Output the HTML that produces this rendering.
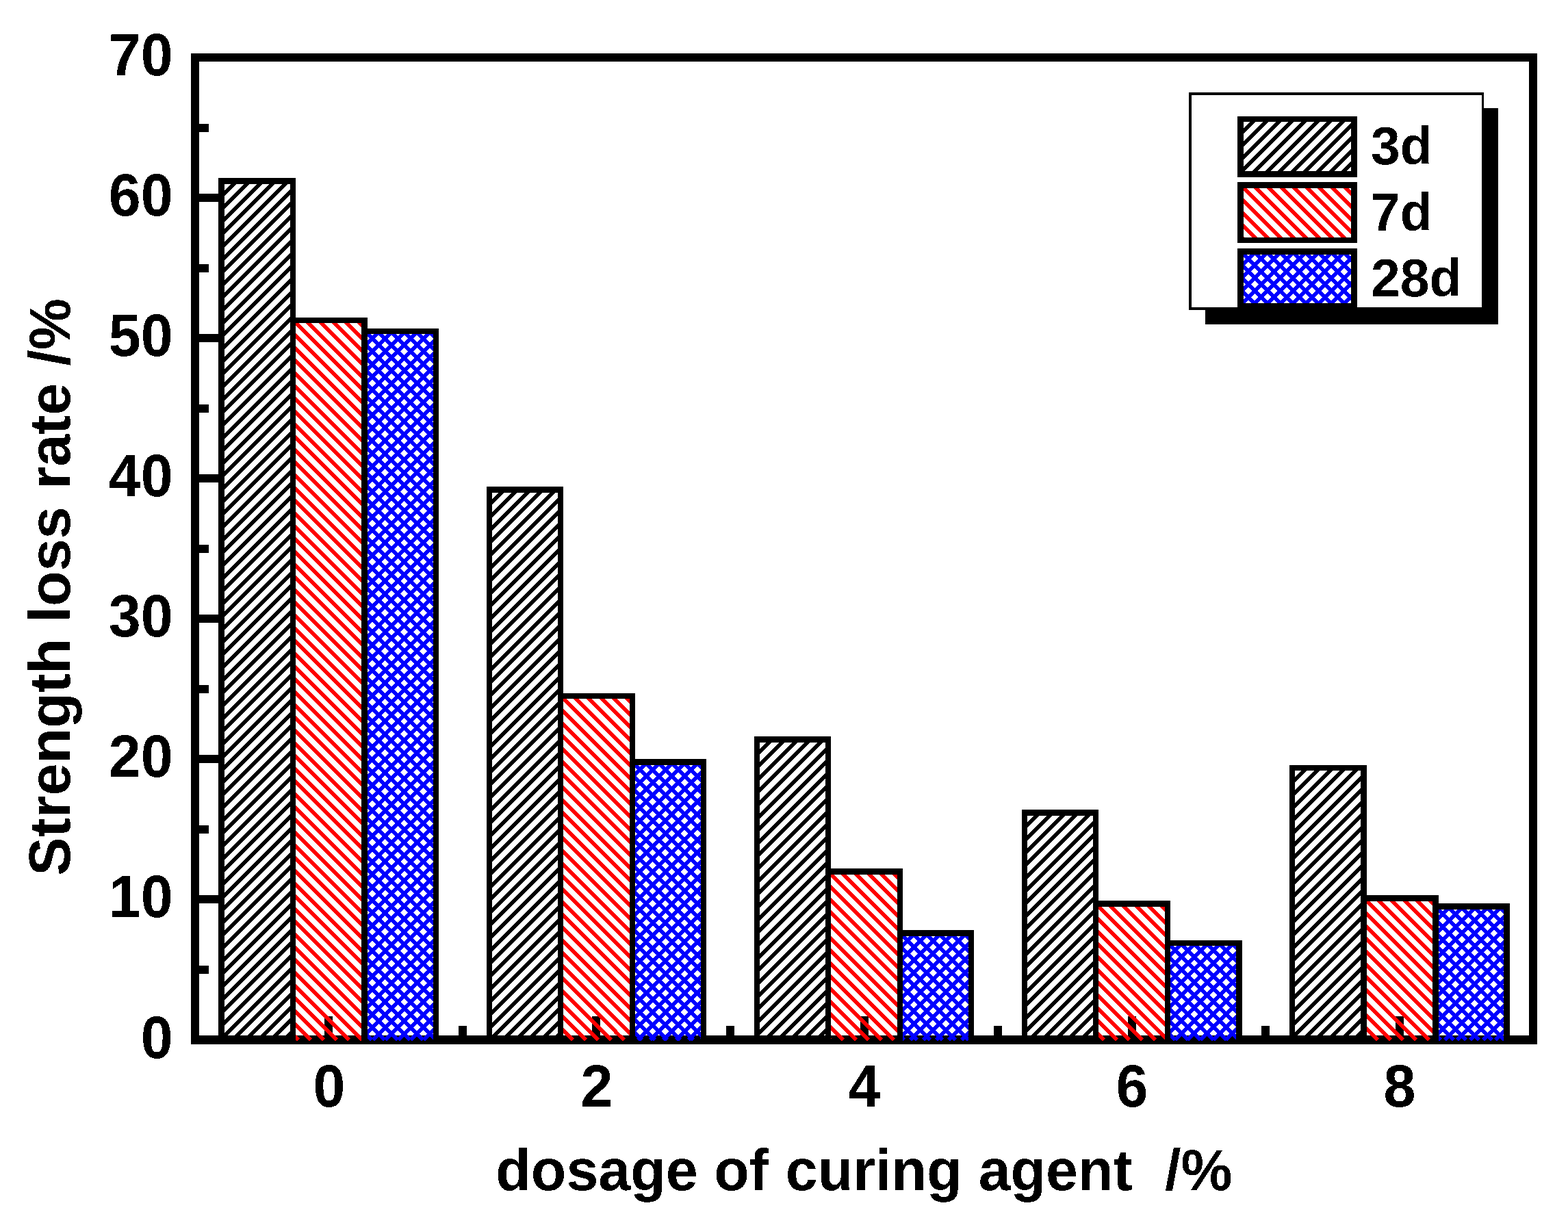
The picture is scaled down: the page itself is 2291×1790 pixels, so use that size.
<!DOCTYPE html>
<html lang="en"><head><meta charset="utf-8"><title>Strength loss rate vs dosage of curing agent</title>
<style>
html,body{margin:0;padding:0;background:#fff;}
body{width:2291px;height:1790px;overflow:hidden;}
svg{display:block;}
text{font-family:"Liberation Sans",Arial,Helvetica,sans-serif;font-weight:bold;fill:#000;}
.t{font-size:84.4px;}
.l{font-size:76.8px;}
.k{fill:#000;shape-rendering:crispEdges;}
.h{shape-rendering:crispEdges;stroke:none;}
</style></head><body>
<svg width="2291" height="1790" viewBox="0 0 2291 1790" role="img" aria-label="Bar chart: strength loss rate versus dosage of curing agent for 3d, 7d and 28d">
<rect x="0" y="0" width="2291" height="1790" fill="#fff"/>
<defs>
<filter id="bin" filterUnits="userSpaceOnUse" x="0" y="0" width="2291" height="1790" color-interpolation-filters="sRGB"><feComponentTransfer><feFuncA type="discrete" tableValues="0 1"/></feComponentTransfer></filter>
<path id="hf" d="M-4 0L-1516 1512h8L4 0zM-1516 1512L-1521.5 1517.5L-1517.5 1521.5L-1508 1512zM14.64 0L-1497.36 1512h8L22.64 0zM-1497.36 1512L-1502.86 1517.5L-1498.86 1521.5L-1489.36 1512zM33.28 0L-1478.72 1512h8L41.28 0zM-1478.72 1512L-1484.22 1517.5L-1480.22 1521.5L-1470.72 1512zM51.92 0L-1460.08 1512h8L59.92 0zM-1460.08 1512L-1465.58 1517.5L-1461.58 1521.5L-1452.08 1512zM70.56 0L-1441.44 1512h8L78.56 0zM-1441.44 1512L-1446.94 1517.5L-1442.94 1521.5L-1433.44 1512zM89.2 0L-1422.8 1512h8L97.2 0zM-1422.8 1512L-1428.3 1517.5L-1424.3 1521.5L-1414.8 1512zM107.84 0L-1404.16 1512h8L115.84 0zM-1404.16 1512L-1409.66 1517.5L-1405.66 1521.5L-1396.16 1512zM126.48 0L-1385.52 1512h8L134.48 0zM-1385.52 1512L-1391.02 1517.5L-1387.02 1521.5L-1377.52 1512zM145.12 0L-1366.88 1512h8L153.12 0zM-1366.88 1512L-1372.38 1517.5L-1368.38 1521.5L-1358.88 1512zM163.76 0L-1348.24 1512h8L171.76 0zM-1348.24 1512L-1353.74 1517.5L-1349.74 1521.5L-1340.24 1512zM182.4 0L-1329.6 1512h8L190.4 0zM-1329.6 1512L-1335.1 1517.5L-1331.1 1521.5L-1321.6 1512zM201.04 0L-1310.96 1512h8L209.04 0zM-1310.96 1512L-1316.46 1517.5L-1312.46 1521.5L-1302.96 1512zM219.68 0L-1292.32 1512h8L227.68 0zM-1292.32 1512L-1297.82 1517.5L-1293.82 1521.5L-1284.32 1512zM238.32 0L-1273.68 1512h8L246.32 0zM-1273.68 1512L-1279.18 1517.5L-1275.18 1521.5L-1265.68 1512zM256.96 0L-1255.04 1512h8L264.96 0zM-1255.04 1512L-1260.54 1517.5L-1256.54 1521.5L-1247.04 1512zM275.6 0L-1236.4 1512h8L283.6 0zM-1236.4 1512L-1241.9 1517.5L-1237.9 1521.5L-1228.4 1512zM294.24 0L-1217.76 1512h8L302.24 0zM-1217.76 1512L-1223.26 1517.5L-1219.26 1521.5L-1209.76 1512zM312.88 0L-1199.12 1512h8L320.88 0zM-1199.12 1512L-1204.62 1517.5L-1200.62 1521.5L-1191.12 1512zM331.52 0L-1180.48 1512h8L339.52 0zM-1180.48 1512L-1185.98 1517.5L-1181.98 1521.5L-1172.48 1512zM350.16 0L-1161.84 1512h8L358.16 0zM-1161.84 1512L-1167.34 1517.5L-1163.34 1521.5L-1153.84 1512zM368.8 0L-1143.2 1512h8L376.8 0zM-1143.2 1512L-1148.7 1517.5L-1144.7 1521.5L-1135.2 1512zM387.44 0L-1124.56 1512h8L395.44 0zM-1124.56 1512L-1130.06 1517.5L-1126.06 1521.5L-1116.56 1512zM406.08 0L-1105.92 1512h8L414.08 0zM-1105.92 1512L-1111.42 1517.5L-1107.42 1521.5L-1097.92 1512zM424.72 0L-1087.28 1512h8L432.72 0zM-1087.28 1512L-1092.78 1517.5L-1088.78 1521.5L-1079.28 1512zM443.36 0L-1068.64 1512h8L451.36 0zM-1068.64 1512L-1074.14 1517.5L-1070.14 1521.5L-1060.64 1512zM462 0L-1050 1512h8L470 0zM-1050 1512L-1055.5 1517.5L-1051.5 1521.5L-1042 1512zM480.64 0L-1031.36 1512h8L488.64 0zM-1031.36 1512L-1036.86 1517.5L-1032.86 1521.5L-1023.36 1512zM499.28 0L-1012.72 1512h8L507.28 0zM-1012.72 1512L-1018.22 1517.5L-1014.22 1521.5L-1004.72 1512zM517.92 0L-994.08 1512h8L525.92 0zM-994.08 1512L-999.58 1517.5L-995.58 1521.5L-986.08 1512zM536.56 0L-975.44 1512h8L544.56 0zM-975.44 1512L-980.94 1517.5L-976.94 1521.5L-967.44 1512zM555.2 0L-956.8 1512h8L563.2 0zM-956.8 1512L-962.3 1517.5L-958.3 1521.5L-948.8 1512zM573.84 0L-938.16 1512h8L581.84 0zM-938.16 1512L-943.66 1517.5L-939.66 1521.5L-930.16 1512zM592.48 0L-919.52 1512h8L600.48 0zM-919.52 1512L-925.02 1517.5L-921.02 1521.5L-911.52 1512zM611.12 0L-900.88 1512h8L619.12 0zM-900.88 1512L-906.38 1517.5L-902.38 1521.5L-892.88 1512zM629.76 0L-882.24 1512h8L637.76 0zM-882.24 1512L-887.74 1517.5L-883.74 1521.5L-874.24 1512zM648.4 0L-863.6 1512h8L656.4 0zM-863.6 1512L-869.1 1517.5L-865.1 1521.5L-855.6 1512zM667.04 0L-844.96 1512h8L675.04 0zM-844.96 1512L-850.46 1517.5L-846.46 1521.5L-836.96 1512zM685.68 0L-826.32 1512h8L693.68 0zM-826.32 1512L-831.82 1517.5L-827.82 1521.5L-818.32 1512zM704.32 0L-807.68 1512h8L712.32 0zM-807.68 1512L-813.18 1517.5L-809.18 1521.5L-799.68 1512zM722.96 0L-789.04 1512h8L730.96 0zM-789.04 1512L-794.54 1517.5L-790.54 1521.5L-781.04 1512zM741.6 0L-770.4 1512h8L749.6 0zM-770.4 1512L-775.9 1517.5L-771.9 1521.5L-762.4 1512zM760.24 0L-751.76 1512h8L768.24 0zM-751.76 1512L-757.26 1517.5L-753.26 1521.5L-743.76 1512zM778.88 0L-733.12 1512h8L786.88 0zM-733.12 1512L-738.62 1517.5L-734.62 1521.5L-725.12 1512zM797.52 0L-714.48 1512h8L805.52 0zM-714.48 1512L-719.98 1517.5L-715.98 1521.5L-706.48 1512zM816.16 0L-695.84 1512h8L824.16 0zM-695.84 1512L-701.34 1517.5L-697.34 1521.5L-687.84 1512zM834.8 0L-677.2 1512h8L842.8 0zM-677.2 1512L-682.7 1517.5L-678.7 1521.5L-669.2 1512zM853.44 0L-658.56 1512h8L861.44 0zM-658.56 1512L-664.06 1517.5L-660.06 1521.5L-650.56 1512zM872.08 0L-639.92 1512h8L880.08 0zM-639.92 1512L-645.42 1517.5L-641.42 1521.5L-631.92 1512zM890.72 0L-621.28 1512h8L898.72 0zM-621.28 1512L-626.78 1517.5L-622.78 1521.5L-613.28 1512zM909.36 0L-602.64 1512h8L917.36 0zM-602.64 1512L-608.14 1517.5L-604.14 1521.5L-594.64 1512zM928 0L-584 1512h8L936 0zM-584 1512L-589.5 1517.5L-585.5 1521.5L-576 1512zM946.64 0L-565.36 1512h8L954.64 0zM-565.36 1512L-570.86 1517.5L-566.86 1521.5L-557.36 1512zM965.28 0L-546.72 1512h8L973.28 0zM-546.72 1512L-552.22 1517.5L-548.22 1521.5L-538.72 1512zM983.92 0L-528.08 1512h8L991.92 0zM-528.08 1512L-533.58 1517.5L-529.58 1521.5L-520.08 1512zM1002.56 0L-509.44 1512h8L1010.56 0zM-509.44 1512L-514.94 1517.5L-510.94 1521.5L-501.44 1512zM1021.2 0L-490.8 1512h8L1029.2 0zM-490.8 1512L-496.3 1517.5L-492.3 1521.5L-482.8 1512zM1039.84 0L-472.16 1512h8L1047.84 0zM-472.16 1512L-477.66 1517.5L-473.66 1521.5L-464.16 1512zM1058.48 0L-453.52 1512h8L1066.48 0zM-453.52 1512L-459.02 1517.5L-455.02 1521.5L-445.52 1512zM1077.12 0L-434.88 1512h8L1085.12 0zM-434.88 1512L-440.38 1517.5L-436.38 1521.5L-426.88 1512zM1095.76 0L-416.24 1512h8L1103.76 0zM-416.24 1512L-421.74 1517.5L-417.74 1521.5L-408.24 1512zM1114.4 0L-397.6 1512h8L1122.4 0zM-397.6 1512L-403.1 1517.5L-399.1 1521.5L-389.6 1512zM1133.04 0L-378.96 1512h8L1141.04 0zM-378.96 1512L-384.46 1517.5L-380.46 1521.5L-370.96 1512zM1151.68 0L-360.32 1512h8L1159.68 0zM-360.32 1512L-365.82 1517.5L-361.82 1521.5L-352.32 1512zM1170.32 0L-341.68 1512h8L1178.32 0zM-341.68 1512L-347.18 1517.5L-343.18 1521.5L-333.68 1512zM1188.96 0L-323.04 1512h8L1196.96 0zM-323.04 1512L-328.54 1517.5L-324.54 1521.5L-315.04 1512zM1207.6 0L-304.4 1512h8L1215.6 0zM-304.4 1512L-309.9 1517.5L-305.9 1521.5L-296.4 1512zM1226.24 0L-285.76 1512h8L1234.24 0zM-285.76 1512L-291.26 1517.5L-287.26 1521.5L-277.76 1512zM1244.88 0L-267.12 1512h8L1252.88 0zM-267.12 1512L-272.62 1517.5L-268.62 1521.5L-259.12 1512zM1263.52 0L-248.48 1512h8L1271.52 0zM-248.48 1512L-253.98 1517.5L-249.98 1521.5L-240.48 1512zM1282.16 0L-229.84 1512h8L1290.16 0zM-229.84 1512L-235.34 1517.5L-231.34 1521.5L-221.84 1512zM1300.8 0L-211.2 1512h8L1308.8 0zM-211.2 1512L-216.7 1517.5L-212.7 1521.5L-203.2 1512zM1319.44 0L-192.56 1512h8L1327.44 0zM-192.56 1512L-198.06 1517.5L-194.06 1521.5L-184.56 1512zM1338.08 0L-173.92 1512h8L1346.08 0zM-173.92 1512L-179.42 1517.5L-175.42 1521.5L-165.92 1512zM1356.72 0L-155.28 1512h8L1364.72 0zM-155.28 1512L-160.78 1517.5L-156.78 1521.5L-147.28 1512zM1375.36 0L-136.64 1512h8L1383.36 0zM-136.64 1512L-142.14 1517.5L-138.14 1521.5L-128.64 1512zM1394 0L-118 1512h8L1402 0zM-118 1512L-123.5 1517.5L-119.5 1521.5L-110 1512zM1412.64 0L-99.36 1512h8L1420.64 0zM-99.36 1512L-104.86 1517.5L-100.86 1521.5L-91.36 1512zM1431.28 0L-80.72 1512h8L1439.28 0zM-80.72 1512L-86.22 1517.5L-82.22 1521.5L-72.72 1512zM1449.92 0L-62.08 1512h8L1457.92 0zM-62.08 1512L-67.58 1517.5L-63.58 1521.5L-54.08 1512zM1468.56 0L-43.44 1512h8L1476.56 0zM-43.44 1512L-48.94 1517.5L-44.94 1521.5L-35.44 1512zM1487.2 0L-24.8 1512h8L1495.2 0zM-24.8 1512L-30.3 1517.5L-26.3 1521.5L-16.8 1512zM1505.84 0L-6.16 1512h8L1513.84 0zM-6.16 1512L-11.66 1517.5L-7.66 1521.5L1.84 1512zM1524.48 0L12.48 1512h8L1532.48 0zM12.48 1512L6.98 1517.5L10.98 1521.5L20.48 1512zM1543.12 0L31.12 1512h8L1551.12 0zM31.12 1512L25.62 1517.5L29.62 1521.5L39.12 1512zM1561.76 0L49.76 1512h8L1569.76 0zM49.76 1512L44.26 1517.5L48.26 1521.5L57.76 1512zM1580.4 0L68.4 1512h8L1588.4 0zM68.4 1512L62.9 1517.5L66.9 1521.5L76.4 1512zM1599.04 0L87.04 1512h8L1607.04 0zM87.04 1512L81.54 1517.5L85.54 1521.5L95.04 1512zM1617.68 0L105.68 1512h8L1625.68 0zM105.68 1512L100.18 1517.5L104.18 1521.5L113.68 1512zM1636.32 0L124.32 1512h8L1644.32 0zM124.32 1512L118.82 1517.5L122.82 1521.5L132.32 1512zM1654.96 0L142.96 1512h8L1662.96 0zM142.96 1512L137.46 1517.5L141.46 1521.5L150.96 1512zM1673.6 0L161.6 1512h8L1681.6 0zM161.6 1512L156.1 1517.5L160.1 1521.5L169.6 1512zM1692.24 0L180.24 1512h8L1700.24 0zM180.24 1512L174.74 1517.5L178.74 1521.5L188.24 1512zM1710.88 0L198.88 1512h8L1718.88 0zM198.88 1512L193.38 1517.5L197.38 1521.5L206.88 1512zM1729.52 0L217.52 1512h8L1737.52 0zM217.52 1512L212.02 1517.5L216.02 1521.5L225.52 1512zM1748.16 0L236.16 1512h8L1756.16 0zM236.16 1512L230.66 1517.5L234.66 1521.5L244.16 1512zM1766.8 0L254.8 1512h8L1774.8 0zM254.8 1512L249.3 1517.5L253.3 1521.5L262.8 1512zM1785.44 0L273.44 1512h8L1793.44 0zM273.44 1512L267.94 1517.5L271.94 1521.5L281.44 1512zM1804.08 0L292.08 1512h8L1812.08 0zM292.08 1512L286.58 1517.5L290.58 1521.5L300.08 1512zM1822.72 0L310.72 1512h8L1830.72 0zM310.72 1512L305.22 1517.5L309.22 1521.5L318.72 1512zM1841.36 0L329.36 1512h8L1849.36 0zM329.36 1512L323.86 1517.5L327.86 1521.5L337.36 1512zM1860 0L348 1512h8L1868 0zM348 1512L342.5 1517.5L346.5 1521.5L356 1512zM1878.64 0L366.64 1512h8L1886.64 0zM366.64 1512L361.14 1517.5L365.14 1521.5L374.64 1512zM1897.28 0L385.28 1512h8L1905.28 0zM385.28 1512L379.78 1517.5L383.78 1521.5L393.28 1512zM1915.92 0L403.92 1512h8L1923.92 0zM403.92 1512L398.42 1517.5L402.42 1521.5L411.92 1512zM1934.56 0L422.56 1512h8L1942.56 0zM422.56 1512L417.06 1517.5L421.06 1521.5L430.56 1512zM1953.2 0L441.2 1512h8L1961.2 0zM441.2 1512L435.7 1517.5L439.7 1521.5L449.2 1512zM1971.84 0L459.84 1512h8L1979.84 0zM459.84 1512L454.34 1517.5L458.34 1521.5L467.84 1512zM1990.48 0L478.48 1512h8L1998.48 0zM478.48 1512L472.98 1517.5L476.98 1521.5L486.48 1512zM2009.12 0L497.12 1512h8L2017.12 0zM497.12 1512L491.62 1517.5L495.62 1521.5L505.12 1512zM2027.76 0L515.76 1512h8L2035.76 0zM515.76 1512L510.26 1517.5L514.26 1521.5L523.76 1512zM2046.4 0L534.4 1512h8L2054.4 0zM534.4 1512L528.9 1517.5L532.9 1521.5L542.4 1512zM2065.04 0L553.04 1512h8L2073.04 0zM553.04 1512L547.54 1517.5L551.54 1521.5L561.04 1512zM2083.68 0L571.68 1512h8L2091.68 0zM571.68 1512L566.18 1517.5L570.18 1521.5L579.68 1512zM2102.32 0L590.32 1512h8L2110.32 0zM590.32 1512L584.82 1517.5L588.82 1521.5L598.32 1512zM2120.96 0L608.96 1512h8L2128.96 0zM608.96 1512L603.46 1517.5L607.46 1521.5L616.96 1512zM2139.6 0L627.6 1512h8L2147.6 0zM627.6 1512L622.1 1517.5L626.1 1521.5L635.6 1512zM2158.24 0L646.24 1512h8L2166.24 0zM646.24 1512L640.74 1517.5L644.74 1521.5L654.24 1512zM2176.88 0L664.88 1512h8L2184.88 0zM664.88 1512L659.38 1517.5L663.38 1521.5L672.88 1512zM2195.52 0L683.52 1512h8L2203.52 0zM683.52 1512L678.02 1517.5L682.02 1521.5L691.52 1512zM2214.16 0L702.16 1512h8L2222.16 0zM702.16 1512L696.66 1517.5L700.66 1521.5L710.16 1512zM2232.8 0L720.8 1512h8L2240.8 0zM720.8 1512L715.3 1517.5L719.3 1521.5L728.8 1512zM2251.44 0L739.44 1512h8L2259.44 0zM739.44 1512L733.94 1517.5L737.94 1521.5L747.44 1512zM2270.08 0L758.08 1512h8L2278.08 0zM758.08 1512L752.58 1517.5L756.58 1521.5L766.08 1512zM2288.72 0L776.72 1512h8L2296.72 0zM776.72 1512L771.22 1517.5L775.22 1521.5L784.72 1512zM2307.36 0L795.36 1512h8L2315.36 0zM795.36 1512L789.86 1517.5L793.86 1521.5L803.36 1512zM2326 0L814 1512h8L2334 0zM814 1512L808.5 1517.5L812.5 1521.5L822 1512zM2344.64 0L832.64 1512h8L2352.64 0zM832.64 1512L827.14 1517.5L831.14 1521.5L840.64 1512zM2363.28 0L851.28 1512h8L2371.28 0zM851.28 1512L845.78 1517.5L849.78 1521.5L859.28 1512zM2381.92 0L869.92 1512h8L2389.92 0zM869.92 1512L864.42 1517.5L868.42 1521.5L877.92 1512zM2400.56 0L888.56 1512h8L2408.56 0zM888.56 1512L883.06 1517.5L887.06 1521.5L896.56 1512zM2419.2 0L907.2 1512h8L2427.2 0zM907.2 1512L901.7 1517.5L905.7 1521.5L915.2 1512zM2437.84 0L925.84 1512h8L2445.84 0zM925.84 1512L920.34 1517.5L924.34 1521.5L933.84 1512zM2456.48 0L944.48 1512h8L2464.48 0zM944.48 1512L938.98 1517.5L942.98 1521.5L952.48 1512zM2475.12 0L963.12 1512h8L2483.12 0zM963.12 1512L957.62 1517.5L961.62 1521.5L971.12 1512zM2493.76 0L981.76 1512h8L2501.76 0zM981.76 1512L976.26 1517.5L980.26 1521.5L989.76 1512zM2512.4 0L1000.4 1512h8L2520.4 0zM1000.4 1512L994.9 1517.5L998.9 1521.5L1008.4 1512zM2531.04 0L1019.04 1512h8L2539.04 0zM1019.04 1512L1013.54 1517.5L1017.54 1521.5L1027.04 1512zM2549.68 0L1037.68 1512h8L2557.68 0zM1037.68 1512L1032.18 1517.5L1036.18 1521.5L1045.68 1512zM2568.32 0L1056.32 1512h8L2576.32 0zM1056.32 1512L1050.82 1517.5L1054.82 1521.5L1064.32 1512zM2586.96 0L1074.96 1512h8L2594.96 0zM1074.96 1512L1069.46 1517.5L1073.46 1521.5L1082.96 1512zM2605.6 0L1093.6 1512h8L2613.6 0zM1093.6 1512L1088.1 1517.5L1092.1 1521.5L1101.6 1512zM2624.24 0L1112.24 1512h8L2632.24 0zM1112.24 1512L1106.74 1517.5L1110.74 1521.5L1120.24 1512zM2642.88 0L1130.88 1512h8L2650.88 0zM1130.88 1512L1125.38 1517.5L1129.38 1521.5L1138.88 1512zM2661.52 0L1149.52 1512h8L2669.52 0zM1149.52 1512L1144.02 1517.5L1148.02 1521.5L1157.52 1512zM2680.16 0L1168.16 1512h8L2688.16 0zM1168.16 1512L1162.66 1517.5L1166.66 1521.5L1176.16 1512zM2698.8 0L1186.8 1512h8L2706.8 0zM1186.8 1512L1181.3 1517.5L1185.3 1521.5L1194.8 1512zM2717.44 0L1205.44 1512h8L2725.44 0zM1205.44 1512L1199.94 1517.5L1203.94 1521.5L1213.44 1512zM2736.08 0L1224.08 1512h8L2744.08 0zM1224.08 1512L1218.58 1517.5L1222.58 1521.5L1232.08 1512zM2754.72 0L1242.72 1512h8L2762.72 0zM1242.72 1512L1237.22 1517.5L1241.22 1521.5L1250.72 1512zM2773.36 0L1261.36 1512h8L2781.36 0zM1261.36 1512L1255.86 1517.5L1259.86 1521.5L1269.36 1512zM2792 0L1280 1512h8L2800 0zM1280 1512L1274.5 1517.5L1278.5 1521.5L1288 1512zM2810.64 0L1298.64 1512h8L2818.64 0zM1298.64 1512L1293.14 1517.5L1297.14 1521.5L1306.64 1512zM2829.28 0L1317.28 1512h8L2837.28 0zM1317.28 1512L1311.78 1517.5L1315.78 1521.5L1325.28 1512zM2847.92 0L1335.92 1512h8L2855.92 0zM1335.92 1512L1330.42 1517.5L1334.42 1521.5L1343.92 1512zM2866.56 0L1354.56 1512h8L2874.56 0zM1354.56 1512L1349.06 1517.5L1353.06 1521.5L1362.56 1512zM2885.2 0L1373.2 1512h8L2893.2 0zM1373.2 1512L1367.7 1517.5L1371.7 1521.5L1381.2 1512zM2903.84 0L1391.84 1512h8L2911.84 0zM1391.84 1512L1386.34 1517.5L1390.34 1521.5L1399.84 1512zM2922.48 0L1410.48 1512h8L2930.48 0zM1410.48 1512L1404.98 1517.5L1408.98 1521.5L1418.48 1512zM2941.12 0L1429.12 1512h8L2949.12 0zM1429.12 1512L1423.62 1517.5L1427.62 1521.5L1437.12 1512zM2959.76 0L1447.76 1512h8L2967.76 0zM1447.76 1512L1442.26 1517.5L1446.26 1521.5L1455.76 1512zM2978.4 0L1466.4 1512h8L2986.4 0zM1466.4 1512L1460.9 1517.5L1464.9 1521.5L1474.4 1512zM2997.04 0L1485.04 1512h8L3005.04 0zM1485.04 1512L1479.54 1517.5L1483.54 1521.5L1493.04 1512zM3015.68 0L1503.68 1512h8L3023.68 0zM1503.68 1512L1498.18 1517.5L1502.18 1521.5L1511.68 1512zM3034.32 0L1522.32 1512h8L3042.32 0zM1522.32 1512L1516.82 1517.5L1520.82 1521.5L1530.32 1512zM3052.96 0L1540.96 1512h8L3060.96 0zM1540.96 1512L1535.46 1517.5L1539.46 1521.5L1548.96 1512zM3071.6 0L1559.6 1512h8L3079.6 0zM1559.6 1512L1554.1 1517.5L1558.1 1521.5L1567.6 1512zM3090.24 0L1578.24 1512h8L3098.24 0zM1578.24 1512L1572.74 1517.5L1576.74 1521.5L1586.24 1512zM3108.88 0L1596.88 1512h8L3116.88 0zM1596.88 1512L1591.38 1517.5L1595.38 1521.5L1604.88 1512zM3127.52 0L1615.52 1512h8L3135.52 0zM1615.52 1512L1610.02 1517.5L1614.02 1521.5L1623.52 1512zM3146.16 0L1634.16 1512h8L3154.16 0zM1634.16 1512L1628.66 1517.5L1632.66 1521.5L1642.16 1512zM3164.8 0L1652.8 1512h8L3172.8 0zM1652.8 1512L1647.3 1517.5L1651.3 1521.5L1660.8 1512zM3183.44 0L1671.44 1512h8L3191.44 0zM1671.44 1512L1665.94 1517.5L1669.94 1521.5L1679.44 1512zM3202.08 0L1690.08 1512h8L3210.08 0zM1690.08 1512L1684.58 1517.5L1688.58 1521.5L1698.08 1512zM3220.72 0L1708.72 1512h8L3228.72 0zM1708.72 1512L1703.22 1517.5L1707.22 1521.5L1716.72 1512zM3239.36 0L1727.36 1512h8L3247.36 0zM1727.36 1512L1721.86 1517.5L1725.86 1521.5L1735.36 1512zM3258 0L1746 1512h8L3266 0zM1746 1512L1740.5 1517.5L1744.5 1521.5L1754 1512zM3276.64 0L1764.64 1512h8L3284.64 0zM1764.64 1512L1759.14 1517.5L1763.14 1521.5L1772.64 1512zM3295.28 0L1783.28 1512h8L3303.28 0zM1783.28 1512L1777.78 1517.5L1781.78 1521.5L1791.28 1512zM3313.92 0L1801.92 1512h8L3321.92 0zM1801.92 1512L1796.42 1517.5L1800.42 1521.5L1809.92 1512zM3332.56 0L1820.56 1512h8L3340.56 0zM1820.56 1512L1815.06 1517.5L1819.06 1521.5L1828.56 1512zM3351.2 0L1839.2 1512h8L3359.2 0zM1839.2 1512L1833.7 1517.5L1837.7 1521.5L1847.2 1512zM3369.84 0L1857.84 1512h8L3377.84 0zM1857.84 1512L1852.34 1517.5L1856.34 1521.5L1865.84 1512zM3388.48 0L1876.48 1512h8L3396.48 0zM1876.48 1512L1870.98 1517.5L1874.98 1521.5L1884.48 1512zM3407.12 0L1895.12 1512h8L3415.12 0zM1895.12 1512L1889.62 1517.5L1893.62 1521.5L1903.12 1512zM3425.76 0L1913.76 1512h8L3433.76 0zM1913.76 1512L1908.26 1517.5L1912.26 1521.5L1921.76 1512zM3444.4 0L1932.4 1512h8L3452.4 0zM1932.4 1512L1926.9 1517.5L1930.9 1521.5L1940.4 1512zM3463.04 0L1951.04 1512h8L3471.04 0zM1951.04 1512L1945.54 1517.5L1949.54 1521.5L1959.04 1512zM3481.68 0L1969.68 1512h8L3489.68 0zM1969.68 1512L1964.18 1517.5L1968.18 1521.5L1977.68 1512zM3500.32 0L1988.32 1512h8L3508.32 0zM1988.32 1512L1982.82 1517.5L1986.82 1521.5L1996.32 1512zM3518.96 0L2006.96 1512h8L3526.96 0zM2006.96 1512L2001.46 1517.5L2005.46 1521.5L2014.96 1512zM3537.6 0L2025.6 1512h8L3545.6 0zM2025.6 1512L2020.1 1517.5L2024.1 1521.5L2033.6 1512zM3556.24 0L2044.24 1512h8L3564.24 0zM2044.24 1512L2038.74 1517.5L2042.74 1521.5L2052.24 1512zM3574.88 0L2062.88 1512h8L3582.88 0zM2062.88 1512L2057.38 1517.5L2061.38 1521.5L2070.88 1512zM3593.52 0L2081.52 1512h8L3601.52 0zM2081.52 1512L2076.02 1517.5L2080.02 1521.5L2089.52 1512zM3612.16 0L2100.16 1512h8L3620.16 0zM2100.16 1512L2094.66 1517.5L2098.66 1521.5L2108.16 1512zM3630.8 0L2118.8 1512h8L3638.8 0zM2118.8 1512L2113.3 1517.5L2117.3 1521.5L2126.8 1512zM3649.44 0L2137.44 1512h8L3657.44 0zM2137.44 1512L2131.94 1517.5L2135.94 1521.5L2145.44 1512zM3668.08 0L2156.08 1512h8L3676.08 0zM2156.08 1512L2150.58 1517.5L2154.58 1521.5L2164.08 1512zM3686.72 0L2174.72 1512h8L3694.72 0zM2174.72 1512L2169.22 1517.5L2173.22 1521.5L2182.72 1512zM3705.36 0L2193.36 1512h8L3713.36 0zM2193.36 1512L2187.86 1517.5L2191.86 1521.5L2201.36 1512zM3724 0L2212 1512h8L3732 0zM2212 1512L2206.5 1517.5L2210.5 1521.5L2220 1512zM3742.64 0L2230.64 1512h8L3750.64 0zM2230.64 1512L2225.14 1517.5L2229.14 1521.5L2238.64 1512zM3761.28 0L2249.28 1512h8L3769.28 0zM2249.28 1512L2243.78 1517.5L2247.78 1521.5L2257.28 1512zM3779.92 0L2267.92 1512h8L3787.92 0zM2267.92 1512L2262.42 1517.5L2266.42 1521.5L2275.92 1512zM3798.56 0L2286.56 1512h8L3806.56 0zM2286.56 1512L2281.06 1517.5L2285.06 1521.5L2294.56 1512zM3817.2 0L2305.2 1512h8L3825.2 0zM2305.2 1512L2299.7 1517.5L2303.7 1521.5L2313.2 1512z"/>
<path id="hb" d="M-1551.12 0L-39.12 1512h8L-1543.12 0zM-39.12 1512L-29.62 1521.5L-25.62 1517.5L-31.12 1512zM-1532.48 0L-20.48 1512h8L-1524.48 0zM-20.48 1512L-10.98 1521.5L-6.98 1517.5L-12.48 1512zM-1513.84 0L-1.84 1512h8L-1505.84 0zM-1.84 1512L7.66 1521.5L11.66 1517.5L6.16 1512zM-1495.2 0L16.8 1512h8L-1487.2 0zM16.8 1512L26.3 1521.5L30.3 1517.5L24.8 1512zM-1476.56 0L35.44 1512h8L-1468.56 0zM35.44 1512L44.94 1521.5L48.94 1517.5L43.44 1512zM-1457.92 0L54.08 1512h8L-1449.92 0zM54.08 1512L63.58 1521.5L67.58 1517.5L62.08 1512zM-1439.28 0L72.72 1512h8L-1431.28 0zM72.72 1512L82.22 1521.5L86.22 1517.5L80.72 1512zM-1420.64 0L91.36 1512h8L-1412.64 0zM91.36 1512L100.86 1521.5L104.86 1517.5L99.36 1512zM-1402 0L110 1512h8L-1394 0zM110 1512L119.5 1521.5L123.5 1517.5L118 1512zM-1383.36 0L128.64 1512h8L-1375.36 0zM128.64 1512L138.14 1521.5L142.14 1517.5L136.64 1512zM-1364.72 0L147.28 1512h8L-1356.72 0zM147.28 1512L156.78 1521.5L160.78 1517.5L155.28 1512zM-1346.08 0L165.92 1512h8L-1338.08 0zM165.92 1512L175.42 1521.5L179.42 1517.5L173.92 1512zM-1327.44 0L184.56 1512h8L-1319.44 0zM184.56 1512L194.06 1521.5L198.06 1517.5L192.56 1512zM-1308.8 0L203.2 1512h8L-1300.8 0zM203.2 1512L212.7 1521.5L216.7 1517.5L211.2 1512zM-1290.16 0L221.84 1512h8L-1282.16 0zM221.84 1512L231.34 1521.5L235.34 1517.5L229.84 1512zM-1271.52 0L240.48 1512h8L-1263.52 0zM240.48 1512L249.98 1521.5L253.98 1517.5L248.48 1512zM-1252.88 0L259.12 1512h8L-1244.88 0zM259.12 1512L268.62 1521.5L272.62 1517.5L267.12 1512zM-1234.24 0L277.76 1512h8L-1226.24 0zM277.76 1512L287.26 1521.5L291.26 1517.5L285.76 1512zM-1215.6 0L296.4 1512h8L-1207.6 0zM296.4 1512L305.9 1521.5L309.9 1517.5L304.4 1512zM-1196.96 0L315.04 1512h8L-1188.96 0zM315.04 1512L324.54 1521.5L328.54 1517.5L323.04 1512zM-1178.32 0L333.68 1512h8L-1170.32 0zM333.68 1512L343.18 1521.5L347.18 1517.5L341.68 1512zM-1159.68 0L352.32 1512h8L-1151.68 0zM352.32 1512L361.82 1521.5L365.82 1517.5L360.32 1512zM-1141.04 0L370.96 1512h8L-1133.04 0zM370.96 1512L380.46 1521.5L384.46 1517.5L378.96 1512zM-1122.4 0L389.6 1512h8L-1114.4 0zM389.6 1512L399.1 1521.5L403.1 1517.5L397.6 1512zM-1103.76 0L408.24 1512h8L-1095.76 0zM408.24 1512L417.74 1521.5L421.74 1517.5L416.24 1512zM-1085.12 0L426.88 1512h8L-1077.12 0zM426.88 1512L436.38 1521.5L440.38 1517.5L434.88 1512zM-1066.48 0L445.52 1512h8L-1058.48 0zM445.52 1512L455.02 1521.5L459.02 1517.5L453.52 1512zM-1047.84 0L464.16 1512h8L-1039.84 0zM464.16 1512L473.66 1521.5L477.66 1517.5L472.16 1512zM-1029.2 0L482.8 1512h8L-1021.2 0zM482.8 1512L492.3 1521.5L496.3 1517.5L490.8 1512zM-1010.56 0L501.44 1512h8L-1002.56 0zM501.44 1512L510.94 1521.5L514.94 1517.5L509.44 1512zM-991.92 0L520.08 1512h8L-983.92 0zM520.08 1512L529.58 1521.5L533.58 1517.5L528.08 1512zM-973.28 0L538.72 1512h8L-965.28 0zM538.72 1512L548.22 1521.5L552.22 1517.5L546.72 1512zM-954.64 0L557.36 1512h8L-946.64 0zM557.36 1512L566.86 1521.5L570.86 1517.5L565.36 1512zM-936 0L576 1512h8L-928 0zM576 1512L585.5 1521.5L589.5 1517.5L584 1512zM-917.36 0L594.64 1512h8L-909.36 0zM594.64 1512L604.14 1521.5L608.14 1517.5L602.64 1512zM-898.72 0L613.28 1512h8L-890.72 0zM613.28 1512L622.78 1521.5L626.78 1517.5L621.28 1512zM-880.08 0L631.92 1512h8L-872.08 0zM631.92 1512L641.42 1521.5L645.42 1517.5L639.92 1512zM-861.44 0L650.56 1512h8L-853.44 0zM650.56 1512L660.06 1521.5L664.06 1517.5L658.56 1512zM-842.8 0L669.2 1512h8L-834.8 0zM669.2 1512L678.7 1521.5L682.7 1517.5L677.2 1512zM-824.16 0L687.84 1512h8L-816.16 0zM687.84 1512L697.34 1521.5L701.34 1517.5L695.84 1512zM-805.52 0L706.48 1512h8L-797.52 0zM706.48 1512L715.98 1521.5L719.98 1517.5L714.48 1512zM-786.88 0L725.12 1512h8L-778.88 0zM725.12 1512L734.62 1521.5L738.62 1517.5L733.12 1512zM-768.24 0L743.76 1512h8L-760.24 0zM743.76 1512L753.26 1521.5L757.26 1517.5L751.76 1512zM-749.6 0L762.4 1512h8L-741.6 0zM762.4 1512L771.9 1521.5L775.9 1517.5L770.4 1512zM-730.96 0L781.04 1512h8L-722.96 0zM781.04 1512L790.54 1521.5L794.54 1517.5L789.04 1512zM-712.32 0L799.68 1512h8L-704.32 0zM799.68 1512L809.18 1521.5L813.18 1517.5L807.68 1512zM-693.68 0L818.32 1512h8L-685.68 0zM818.32 1512L827.82 1521.5L831.82 1517.5L826.32 1512zM-675.04 0L836.96 1512h8L-667.04 0zM836.96 1512L846.46 1521.5L850.46 1517.5L844.96 1512zM-656.4 0L855.6 1512h8L-648.4 0zM855.6 1512L865.1 1521.5L869.1 1517.5L863.6 1512zM-637.76 0L874.24 1512h8L-629.76 0zM874.24 1512L883.74 1521.5L887.74 1517.5L882.24 1512zM-619.12 0L892.88 1512h8L-611.12 0zM892.88 1512L902.38 1521.5L906.38 1517.5L900.88 1512zM-600.48 0L911.52 1512h8L-592.48 0zM911.52 1512L921.02 1521.5L925.02 1517.5L919.52 1512zM-581.84 0L930.16 1512h8L-573.84 0zM930.16 1512L939.66 1521.5L943.66 1517.5L938.16 1512zM-563.2 0L948.8 1512h8L-555.2 0zM948.8 1512L958.3 1521.5L962.3 1517.5L956.8 1512zM-544.56 0L967.44 1512h8L-536.56 0zM967.44 1512L976.94 1521.5L980.94 1517.5L975.44 1512zM-525.92 0L986.08 1512h8L-517.92 0zM986.08 1512L995.58 1521.5L999.58 1517.5L994.08 1512zM-507.28 0L1004.72 1512h8L-499.28 0zM1004.72 1512L1014.22 1521.5L1018.22 1517.5L1012.72 1512zM-488.64 0L1023.36 1512h8L-480.64 0zM1023.36 1512L1032.86 1521.5L1036.86 1517.5L1031.36 1512zM-470 0L1042 1512h8L-462 0zM1042 1512L1051.5 1521.5L1055.5 1517.5L1050 1512zM-451.36 0L1060.64 1512h8L-443.36 0zM1060.64 1512L1070.14 1521.5L1074.14 1517.5L1068.64 1512zM-432.72 0L1079.28 1512h8L-424.72 0zM1079.28 1512L1088.78 1521.5L1092.78 1517.5L1087.28 1512zM-414.08 0L1097.92 1512h8L-406.08 0zM1097.92 1512L1107.42 1521.5L1111.42 1517.5L1105.92 1512zM-395.44 0L1116.56 1512h8L-387.44 0zM1116.56 1512L1126.06 1521.5L1130.06 1517.5L1124.56 1512zM-376.8 0L1135.2 1512h8L-368.8 0zM1135.2 1512L1144.7 1521.5L1148.7 1517.5L1143.2 1512zM-358.16 0L1153.84 1512h8L-350.16 0zM1153.84 1512L1163.34 1521.5L1167.34 1517.5L1161.84 1512zM-339.52 0L1172.48 1512h8L-331.52 0zM1172.48 1512L1181.98 1521.5L1185.98 1517.5L1180.48 1512zM-320.88 0L1191.12 1512h8L-312.88 0zM1191.12 1512L1200.62 1521.5L1204.62 1517.5L1199.12 1512zM-302.24 0L1209.76 1512h8L-294.24 0zM1209.76 1512L1219.26 1521.5L1223.26 1517.5L1217.76 1512zM-283.6 0L1228.4 1512h8L-275.6 0zM1228.4 1512L1237.9 1521.5L1241.9 1517.5L1236.4 1512zM-264.96 0L1247.04 1512h8L-256.96 0zM1247.04 1512L1256.54 1521.5L1260.54 1517.5L1255.04 1512zM-246.32 0L1265.68 1512h8L-238.32 0zM1265.68 1512L1275.18 1521.5L1279.18 1517.5L1273.68 1512zM-227.68 0L1284.32 1512h8L-219.68 0zM1284.32 1512L1293.82 1521.5L1297.82 1517.5L1292.32 1512zM-209.04 0L1302.96 1512h8L-201.04 0zM1302.96 1512L1312.46 1521.5L1316.46 1517.5L1310.96 1512zM-190.4 0L1321.6 1512h8L-182.4 0zM1321.6 1512L1331.1 1521.5L1335.1 1517.5L1329.6 1512zM-171.76 0L1340.24 1512h8L-163.76 0zM1340.24 1512L1349.74 1521.5L1353.74 1517.5L1348.24 1512zM-153.12 0L1358.88 1512h8L-145.12 0zM1358.88 1512L1368.38 1521.5L1372.38 1517.5L1366.88 1512zM-134.48 0L1377.52 1512h8L-126.48 0zM1377.52 1512L1387.02 1521.5L1391.02 1517.5L1385.52 1512zM-115.84 0L1396.16 1512h8L-107.84 0zM1396.16 1512L1405.66 1521.5L1409.66 1517.5L1404.16 1512zM-97.2 0L1414.8 1512h8L-89.2 0zM1414.8 1512L1424.3 1521.5L1428.3 1517.5L1422.8 1512zM-78.56 0L1433.44 1512h8L-70.56 0zM1433.44 1512L1442.94 1521.5L1446.94 1517.5L1441.44 1512zM-59.92 0L1452.08 1512h8L-51.92 0zM1452.08 1512L1461.58 1521.5L1465.58 1517.5L1460.08 1512zM-41.28 0L1470.72 1512h8L-33.28 0zM1470.72 1512L1480.22 1521.5L1484.22 1517.5L1478.72 1512zM-22.64 0L1489.36 1512h8L-14.64 0zM1489.36 1512L1498.86 1521.5L1502.86 1517.5L1497.36 1512zM-4 0L1508 1512h8L4 0zM1508 1512L1517.5 1521.5L1521.5 1517.5L1516 1512zM14.64 0L1526.64 1512h8L22.64 0zM1526.64 1512L1536.14 1521.5L1540.14 1517.5L1534.64 1512zM33.28 0L1545.28 1512h8L41.28 0zM1545.28 1512L1554.78 1521.5L1558.78 1517.5L1553.28 1512zM51.92 0L1563.92 1512h8L59.92 0zM1563.92 1512L1573.42 1521.5L1577.42 1517.5L1571.92 1512zM70.56 0L1582.56 1512h8L78.56 0zM1582.56 1512L1592.06 1521.5L1596.06 1517.5L1590.56 1512zM89.2 0L1601.2 1512h8L97.2 0zM1601.2 1512L1610.7 1521.5L1614.7 1517.5L1609.2 1512zM107.84 0L1619.84 1512h8L115.84 0zM1619.84 1512L1629.34 1521.5L1633.34 1517.5L1627.84 1512zM126.48 0L1638.48 1512h8L134.48 0zM1638.48 1512L1647.98 1521.5L1651.98 1517.5L1646.48 1512zM145.12 0L1657.12 1512h8L153.12 0zM1657.12 1512L1666.62 1521.5L1670.62 1517.5L1665.12 1512zM163.76 0L1675.76 1512h8L171.76 0zM1675.76 1512L1685.26 1521.5L1689.26 1517.5L1683.76 1512zM182.4 0L1694.4 1512h8L190.4 0zM1694.4 1512L1703.9 1521.5L1707.9 1517.5L1702.4 1512zM201.04 0L1713.04 1512h8L209.04 0zM1713.04 1512L1722.54 1521.5L1726.54 1517.5L1721.04 1512zM219.68 0L1731.68 1512h8L227.68 0zM1731.68 1512L1741.18 1521.5L1745.18 1517.5L1739.68 1512zM238.32 0L1750.32 1512h8L246.32 0zM1750.32 1512L1759.82 1521.5L1763.82 1517.5L1758.32 1512zM256.96 0L1768.96 1512h8L264.96 0zM1768.96 1512L1778.46 1521.5L1782.46 1517.5L1776.96 1512zM275.6 0L1787.6 1512h8L283.6 0zM1787.6 1512L1797.1 1521.5L1801.1 1517.5L1795.6 1512zM294.24 0L1806.24 1512h8L302.24 0zM1806.24 1512L1815.74 1521.5L1819.74 1517.5L1814.24 1512zM312.88 0L1824.88 1512h8L320.88 0zM1824.88 1512L1834.38 1521.5L1838.38 1517.5L1832.88 1512zM331.52 0L1843.52 1512h8L339.52 0zM1843.52 1512L1853.02 1521.5L1857.02 1517.5L1851.52 1512zM350.16 0L1862.16 1512h8L358.16 0zM1862.16 1512L1871.66 1521.5L1875.66 1517.5L1870.16 1512zM368.8 0L1880.8 1512h8L376.8 0zM1880.8 1512L1890.3 1521.5L1894.3 1517.5L1888.8 1512zM387.44 0L1899.44 1512h8L395.44 0zM1899.44 1512L1908.94 1521.5L1912.94 1517.5L1907.44 1512zM406.08 0L1918.08 1512h8L414.08 0zM1918.08 1512L1927.58 1521.5L1931.58 1517.5L1926.08 1512zM424.72 0L1936.72 1512h8L432.72 0zM1936.72 1512L1946.22 1521.5L1950.22 1517.5L1944.72 1512zM443.36 0L1955.36 1512h8L451.36 0zM1955.36 1512L1964.86 1521.5L1968.86 1517.5L1963.36 1512zM462 0L1974 1512h8L470 0zM1974 1512L1983.5 1521.5L1987.5 1517.5L1982 1512zM480.64 0L1992.64 1512h8L488.64 0zM1992.64 1512L2002.14 1521.5L2006.14 1517.5L2000.64 1512zM499.28 0L2011.28 1512h8L507.28 0zM2011.28 1512L2020.78 1521.5L2024.78 1517.5L2019.28 1512zM517.92 0L2029.92 1512h8L525.92 0zM2029.92 1512L2039.42 1521.5L2043.42 1517.5L2037.92 1512zM536.56 0L2048.56 1512h8L544.56 0zM2048.56 1512L2058.06 1521.5L2062.06 1517.5L2056.56 1512zM555.2 0L2067.2 1512h8L563.2 0zM2067.2 1512L2076.7 1521.5L2080.7 1517.5L2075.2 1512zM573.84 0L2085.84 1512h8L581.84 0zM2085.84 1512L2095.34 1521.5L2099.34 1517.5L2093.84 1512zM592.48 0L2104.48 1512h8L600.48 0zM2104.48 1512L2113.98 1521.5L2117.98 1517.5L2112.48 1512zM611.12 0L2123.12 1512h8L619.12 0zM2123.12 1512L2132.62 1521.5L2136.62 1517.5L2131.12 1512zM629.76 0L2141.76 1512h8L637.76 0zM2141.76 1512L2151.26 1521.5L2155.26 1517.5L2149.76 1512zM648.4 0L2160.4 1512h8L656.4 0zM2160.4 1512L2169.9 1521.5L2173.9 1517.5L2168.4 1512zM667.04 0L2179.04 1512h8L675.04 0zM2179.04 1512L2188.54 1521.5L2192.54 1517.5L2187.04 1512zM685.68 0L2197.68 1512h8L693.68 0zM2197.68 1512L2207.18 1521.5L2211.18 1517.5L2205.68 1512zM704.32 0L2216.32 1512h8L712.32 0zM2216.32 1512L2225.82 1521.5L2229.82 1517.5L2224.32 1512zM722.96 0L2234.96 1512h8L730.96 0zM2234.96 1512L2244.46 1521.5L2248.46 1517.5L2242.96 1512zM741.6 0L2253.6 1512h8L749.6 0zM2253.6 1512L2263.1 1521.5L2267.1 1517.5L2261.6 1512zM760.24 0L2272.24 1512h8L768.24 0zM2272.24 1512L2281.74 1521.5L2285.74 1517.5L2280.24 1512zM778.88 0L2290.88 1512h8L786.88 0zM2290.88 1512L2300.38 1521.5L2304.38 1517.5L2298.88 1512zM797.52 0L2309.52 1512h8L805.52 0zM2309.52 1512L2319.02 1521.5L2323.02 1517.5L2317.52 1512zM816.16 0L2328.16 1512h8L824.16 0zM2328.16 1512L2337.66 1521.5L2341.66 1517.5L2336.16 1512zM834.8 0L2346.8 1512h8L842.8 0zM2346.8 1512L2356.3 1521.5L2360.3 1517.5L2354.8 1512zM853.44 0L2365.44 1512h8L861.44 0zM2365.44 1512L2374.94 1521.5L2378.94 1517.5L2373.44 1512zM872.08 0L2384.08 1512h8L880.08 0zM2384.08 1512L2393.58 1521.5L2397.58 1517.5L2392.08 1512zM890.72 0L2402.72 1512h8L898.72 0zM2402.72 1512L2412.22 1521.5L2416.22 1517.5L2410.72 1512zM909.36 0L2421.36 1512h8L917.36 0zM2421.36 1512L2430.86 1521.5L2434.86 1517.5L2429.36 1512zM928 0L2440 1512h8L936 0zM2440 1512L2449.5 1521.5L2453.5 1517.5L2448 1512zM946.64 0L2458.64 1512h8L954.64 0zM2458.64 1512L2468.14 1521.5L2472.14 1517.5L2466.64 1512zM965.28 0L2477.28 1512h8L973.28 0zM2477.28 1512L2486.78 1521.5L2490.78 1517.5L2485.28 1512zM983.92 0L2495.92 1512h8L991.92 0zM2495.92 1512L2505.42 1521.5L2509.42 1517.5L2503.92 1512zM1002.56 0L2514.56 1512h8L1010.56 0zM2514.56 1512L2524.06 1521.5L2528.06 1517.5L2522.56 1512zM1021.2 0L2533.2 1512h8L1029.2 0zM2533.2 1512L2542.7 1521.5L2546.7 1517.5L2541.2 1512zM1039.84 0L2551.84 1512h8L1047.84 0zM2551.84 1512L2561.34 1521.5L2565.34 1517.5L2559.84 1512zM1058.48 0L2570.48 1512h8L1066.48 0zM2570.48 1512L2579.98 1521.5L2583.98 1517.5L2578.48 1512zM1077.12 0L2589.12 1512h8L1085.12 0zM2589.12 1512L2598.62 1521.5L2602.62 1517.5L2597.12 1512zM1095.76 0L2607.76 1512h8L1103.76 0zM2607.76 1512L2617.26 1521.5L2621.26 1517.5L2615.76 1512zM1114.4 0L2626.4 1512h8L1122.4 0zM2626.4 1512L2635.9 1521.5L2639.9 1517.5L2634.4 1512zM1133.04 0L2645.04 1512h8L1141.04 0zM2645.04 1512L2654.54 1521.5L2658.54 1517.5L2653.04 1512zM1151.68 0L2663.68 1512h8L1159.68 0zM2663.68 1512L2673.18 1521.5L2677.18 1517.5L2671.68 1512zM1170.32 0L2682.32 1512h8L1178.32 0zM2682.32 1512L2691.82 1521.5L2695.82 1517.5L2690.32 1512zM1188.96 0L2700.96 1512h8L1196.96 0zM2700.96 1512L2710.46 1521.5L2714.46 1517.5L2708.96 1512zM1207.6 0L2719.6 1512h8L1215.6 0zM2719.6 1512L2729.1 1521.5L2733.1 1517.5L2727.6 1512zM1226.24 0L2738.24 1512h8L1234.24 0zM2738.24 1512L2747.74 1521.5L2751.74 1517.5L2746.24 1512zM1244.88 0L2756.88 1512h8L1252.88 0zM2756.88 1512L2766.38 1521.5L2770.38 1517.5L2764.88 1512zM1263.52 0L2775.52 1512h8L1271.52 0zM2775.52 1512L2785.02 1521.5L2789.02 1517.5L2783.52 1512zM1282.16 0L2794.16 1512h8L1290.16 0zM2794.16 1512L2803.66 1521.5L2807.66 1517.5L2802.16 1512zM1300.8 0L2812.8 1512h8L1308.8 0zM2812.8 1512L2822.3 1521.5L2826.3 1517.5L2820.8 1512zM1319.44 0L2831.44 1512h8L1327.44 0zM2831.44 1512L2840.94 1521.5L2844.94 1517.5L2839.44 1512zM1338.08 0L2850.08 1512h8L1346.08 0zM2850.08 1512L2859.58 1521.5L2863.58 1517.5L2858.08 1512zM1356.72 0L2868.72 1512h8L1364.72 0zM2868.72 1512L2878.22 1521.5L2882.22 1517.5L2876.72 1512zM1375.36 0L2887.36 1512h8L1383.36 0zM2887.36 1512L2896.86 1521.5L2900.86 1517.5L2895.36 1512zM1394 0L2906 1512h8L1402 0zM2906 1512L2915.5 1521.5L2919.5 1517.5L2914 1512zM1412.64 0L2924.64 1512h8L1420.64 0zM2924.64 1512L2934.14 1521.5L2938.14 1517.5L2932.64 1512zM1431.28 0L2943.28 1512h8L1439.28 0zM2943.28 1512L2952.78 1521.5L2956.78 1517.5L2951.28 1512zM1449.92 0L2961.92 1512h8L1457.92 0zM2961.92 1512L2971.42 1521.5L2975.42 1517.5L2969.92 1512zM1468.56 0L2980.56 1512h8L1476.56 0zM2980.56 1512L2990.06 1521.5L2994.06 1517.5L2988.56 1512zM1487.2 0L2999.2 1512h8L1495.2 0zM2999.2 1512L3008.7 1521.5L3012.7 1517.5L3007.2 1512zM1505.84 0L3017.84 1512h8L1513.84 0zM3017.84 1512L3027.34 1521.5L3031.34 1517.5L3025.84 1512zM1524.48 0L3036.48 1512h8L1532.48 0zM3036.48 1512L3045.98 1521.5L3049.98 1517.5L3044.48 1512zM1543.12 0L3055.12 1512h8L1551.12 0zM3055.12 1512L3064.62 1521.5L3068.62 1517.5L3063.12 1512zM1561.76 0L3073.76 1512h8L1569.76 0zM3073.76 1512L3083.26 1521.5L3087.26 1517.5L3081.76 1512zM1580.4 0L3092.4 1512h8L1588.4 0zM3092.4 1512L3101.9 1521.5L3105.9 1517.5L3100.4 1512zM1599.04 0L3111.04 1512h8L1607.04 0zM3111.04 1512L3120.54 1521.5L3124.54 1517.5L3119.04 1512zM1617.68 0L3129.68 1512h8L1625.68 0zM3129.68 1512L3139.18 1521.5L3143.18 1517.5L3137.68 1512zM1636.32 0L3148.32 1512h8L1644.32 0zM3148.32 1512L3157.82 1521.5L3161.82 1517.5L3156.32 1512zM1654.96 0L3166.96 1512h8L1662.96 0zM3166.96 1512L3176.46 1521.5L3180.46 1517.5L3174.96 1512zM1673.6 0L3185.6 1512h8L1681.6 0zM3185.6 1512L3195.1 1521.5L3199.1 1517.5L3193.6 1512zM1692.24 0L3204.24 1512h8L1700.24 0zM3204.24 1512L3213.74 1521.5L3217.74 1517.5L3212.24 1512zM1710.88 0L3222.88 1512h8L1718.88 0zM3222.88 1512L3232.38 1521.5L3236.38 1517.5L3230.88 1512zM1729.52 0L3241.52 1512h8L1737.52 0zM3241.52 1512L3251.02 1521.5L3255.02 1517.5L3249.52 1512zM1748.16 0L3260.16 1512h8L1756.16 0zM3260.16 1512L3269.66 1521.5L3273.66 1517.5L3268.16 1512zM1766.8 0L3278.8 1512h8L1774.8 0zM3278.8 1512L3288.3 1521.5L3292.3 1517.5L3286.8 1512zM1785.44 0L3297.44 1512h8L1793.44 0zM3297.44 1512L3306.94 1521.5L3310.94 1517.5L3305.44 1512zM1804.08 0L3316.08 1512h8L1812.08 0zM3316.08 1512L3325.58 1521.5L3329.58 1517.5L3324.08 1512zM1822.72 0L3334.72 1512h8L1830.72 0zM3334.72 1512L3344.22 1521.5L3348.22 1517.5L3342.72 1512zM1841.36 0L3353.36 1512h8L1849.36 0zM3353.36 1512L3362.86 1521.5L3366.86 1517.5L3361.36 1512zM1860 0L3372 1512h8L1868 0zM3372 1512L3381.5 1521.5L3385.5 1517.5L3380 1512zM1878.64 0L3390.64 1512h8L1886.64 0zM3390.64 1512L3400.14 1521.5L3404.14 1517.5L3398.64 1512zM1897.28 0L3409.28 1512h8L1905.28 0zM3409.28 1512L3418.78 1521.5L3422.78 1517.5L3417.28 1512zM1915.92 0L3427.92 1512h8L1923.92 0zM3427.92 1512L3437.42 1521.5L3441.42 1517.5L3435.92 1512zM1934.56 0L3446.56 1512h8L1942.56 0zM3446.56 1512L3456.06 1521.5L3460.06 1517.5L3454.56 1512zM1953.2 0L3465.2 1512h8L1961.2 0zM3465.2 1512L3474.7 1521.5L3478.7 1517.5L3473.2 1512zM1971.84 0L3483.84 1512h8L1979.84 0zM3483.84 1512L3493.34 1521.5L3497.34 1517.5L3491.84 1512zM1990.48 0L3502.48 1512h8L1998.48 0zM3502.48 1512L3511.98 1521.5L3515.98 1517.5L3510.48 1512zM2009.12 0L3521.12 1512h8L2017.12 0zM3521.12 1512L3530.62 1521.5L3534.62 1517.5L3529.12 1512zM2027.76 0L3539.76 1512h8L2035.76 0zM3539.76 1512L3549.26 1521.5L3553.26 1517.5L3547.76 1512zM2046.4 0L3558.4 1512h8L2054.4 0zM3558.4 1512L3567.9 1521.5L3571.9 1517.5L3566.4 1512zM2065.04 0L3577.04 1512h8L2073.04 0zM3577.04 1512L3586.54 1521.5L3590.54 1517.5L3585.04 1512zM2083.68 0L3595.68 1512h8L2091.68 0zM3595.68 1512L3605.18 1521.5L3609.18 1517.5L3603.68 1512zM2102.32 0L3614.32 1512h8L2110.32 0zM3614.32 1512L3623.82 1521.5L3627.82 1517.5L3622.32 1512zM2120.96 0L3632.96 1512h8L2128.96 0zM3632.96 1512L3642.46 1521.5L3646.46 1517.5L3640.96 1512zM2139.6 0L3651.6 1512h8L2147.6 0zM3651.6 1512L3661.1 1521.5L3665.1 1517.5L3659.6 1512zM2158.24 0L3670.24 1512h8L2166.24 0zM3670.24 1512L3679.74 1521.5L3683.74 1517.5L3678.24 1512zM2176.88 0L3688.88 1512h8L2184.88 0zM3688.88 1512L3698.38 1521.5L3702.38 1517.5L3696.88 1512zM2195.52 0L3707.52 1512h8L2203.52 0zM3707.52 1512L3717.02 1521.5L3721.02 1517.5L3715.52 1512zM2214.16 0L3726.16 1512h8L2222.16 0zM3726.16 1512L3735.66 1521.5L3739.66 1517.5L3734.16 1512zM2232.8 0L3744.8 1512h8L2240.8 0zM3744.8 1512L3754.3 1521.5L3758.3 1517.5L3752.8 1512zM2251.44 0L3763.44 1512h8L2259.44 0zM3763.44 1512L3772.94 1521.5L3776.94 1517.5L3771.44 1512zM2270.08 0L3782.08 1512h8L2278.08 0zM3782.08 1512L3791.58 1521.5L3795.58 1517.5L3790.08 1512zM2288.72 0L3800.72 1512h8L2296.72 0zM3800.72 1512L3810.22 1521.5L3814.22 1517.5L3808.72 1512z"/>
</defs>
<g class="k">
<rect x="279" y="78" width="1967" height="12"/>
<rect x="279" y="1513" width="1967" height="13"/>
<rect x="279" y="78" width="12" height="1448"/>
<rect x="2234" y="78" width="12" height="1448"/>
<rect x="291" y="1411" width="14" height="12"/>
<rect x="291" y="1308" width="28" height="12"/>
<rect x="291" y="1206" width="14" height="12"/>
<rect x="291" y="1103" width="28" height="12"/>
<rect x="291" y="1001" width="14" height="12"/>
<rect x="291" y="898" width="28" height="12"/>
<rect x="291" y="796" width="14" height="12"/>
<rect x="291" y="693" width="28" height="12"/>
<rect x="291" y="591" width="14" height="12"/>
<rect x="291" y="488" width="28" height="12"/>
<rect x="291" y="386" width="14" height="12"/>
<rect x="291" y="283" width="28" height="12"/>
<rect x="291" y="181" width="14" height="12"/>
<rect x="474" y="1485" width="12" height="28"/>
<rect x="670" y="1499" width="12" height="14"/>
<rect x="865" y="1485" width="12" height="28"/>
<rect x="1061" y="1499" width="12" height="14"/>
<rect x="1257" y="1485" width="12" height="28"/>
<rect x="1452" y="1499" width="12" height="14"/>
<rect x="1648" y="1485" width="12" height="28"/>
<rect x="1843" y="1499" width="12" height="14"/>
<rect x="2039" y="1485" width="12" height="28"/>
</g>
<clipPath id="c1"><rect x="328" y="269" width="96" height="1244"/></clipPath>
<g clip-path="url(#c1)" fill="#000" class="h">
<use href="#hf" x="14.37"/>
</g>
<clipPath id="c2"><rect x="432" y="472" width="96" height="1054"/></clipPath>
<g clip-path="url(#c2)" fill="#f00" class="h">
<use href="#hb" x="16.02"/>
</g>
<clipPath id="c3"><rect x="537" y="488" width="96" height="1038"/></clipPath>
<g clip-path="url(#c3)" fill="#00f" class="h">
<use href="#hf" x="13.65"/>
<use href="#hb" x="11.82"/>
</g>
<clipPath id="c4"><rect x="719" y="720" width="96" height="793"/></clipPath>
<g clip-path="url(#c4)" fill="#000" class="h">
<use href="#hf" x="17.57"/>
</g>
<clipPath id="c5"><rect x="823" y="1021" width="97" height="505"/></clipPath>
<g clip-path="url(#c5)" fill="#f00" class="h">
<use href="#hb" x="7.14"/>
</g>
<clipPath id="c6"><rect x="928" y="1118" width="96" height="408"/></clipPath>
<g clip-path="url(#c6)" fill="#00f" class="h">
<use href="#hf" x="9.45"/>
<use href="#hb" x="15.14"/>
</g>
<clipPath id="c7"><rect x="1110" y="1085" width="96" height="428"/></clipPath>
<g clip-path="url(#c7)" fill="#000" class="h">
<use href="#hf" x="9.33"/>
</g>
<clipPath id="c8"><rect x="1214" y="1278" width="97" height="248"/></clipPath>
<g clip-path="url(#c8)" fill="#f00" class="h">
<use href="#hb" x="10.66"/>
</g>
<clipPath id="c9"><rect x="1319" y="1368" width="96" height="158"/></clipPath>
<g clip-path="url(#c9)" fill="#00f" class="h">
<use href="#hf" x="16.69"/>
<use href="#hb" x="7.02"/>
</g>
<clipPath id="c10"><rect x="1501" y="1192" width="96" height="321"/></clipPath>
<g clip-path="url(#c10)" fill="#000" class="h">
<use href="#hf" x="4.05"/>
</g>
<clipPath id="c11"><rect x="1605" y="1325" width="97" height="201"/></clipPath>
<g clip-path="url(#c11)" fill="#f00" class="h">
<use href="#hb" x="0.5"/>
</g>
<clipPath id="c12"><rect x="1710" y="1382" width="96" height="144"/></clipPath>
<g clip-path="url(#c12)" fill="#00f" class="h">
<use href="#hf" x="11.61"/>
<use href="#hb" x="11.22"/>
</g>
<clipPath id="c13"><rect x="1892" y="1126" width="96" height="387"/></clipPath>
<g clip-path="url(#c13)" fill="#000" class="h">
<use href="#hf" x="12.17"/>
</g>
<clipPath id="c14"><rect x="1997" y="1317" width="96" height="209"/></clipPath>
<g clip-path="url(#c14)" fill="#f00" class="h">
<use href="#hb" x="9.06"/>
</g>
<clipPath id="c15"><rect x="2102" y="1329" width="95" height="197"/></clipPath>
<g clip-path="url(#c15)" fill="#00f" class="h">
<use href="#hf" x="14.09"/>
<use href="#hb" x="7.86"/>
</g>
<g class="k">
<rect x="319" y="260" width="9" height="1253"/>
<rect x="319" y="260" width="113" height="9"/>
<rect x="424" y="260" width="8" height="1253"/>
<rect x="424" y="464" width="8" height="1049"/>
<rect x="424" y="464" width="113" height="8"/>
<rect x="528" y="464" width="9" height="1049"/>
<rect x="528" y="480" width="9" height="1033"/>
<rect x="528" y="480" width="113" height="8"/>
<rect x="633" y="480" width="8" height="1033"/>
<rect x="711" y="711" width="8" height="802"/>
<rect x="711" y="711" width="112" height="9"/>
<rect x="815" y="711" width="8" height="802"/>
<rect x="815" y="1013" width="8" height="500"/>
<rect x="815" y="1013" width="113" height="8"/>
<rect x="920" y="1013" width="8" height="500"/>
<rect x="920" y="1109" width="8" height="404"/>
<rect x="920" y="1109" width="112" height="9"/>
<rect x="1024" y="1109" width="8" height="404"/>
<rect x="1102" y="1076" width="8" height="437"/>
<rect x="1102" y="1076" width="112" height="9"/>
<rect x="1206" y="1076" width="8" height="437"/>
<rect x="1206" y="1269" width="8" height="244"/>
<rect x="1206" y="1269" width="113" height="9"/>
<rect x="1311" y="1269" width="8" height="244"/>
<rect x="1311" y="1359" width="8" height="154"/>
<rect x="1311" y="1359" width="112" height="9"/>
<rect x="1415" y="1359" width="8" height="154"/>
<rect x="1493" y="1183" width="8" height="330"/>
<rect x="1493" y="1183" width="112" height="9"/>
<rect x="1597" y="1183" width="8" height="330"/>
<rect x="1597" y="1316" width="8" height="197"/>
<rect x="1597" y="1316" width="113" height="9"/>
<rect x="1702" y="1316" width="8" height="197"/>
<rect x="1702" y="1374" width="8" height="139"/>
<rect x="1702" y="1374" width="113" height="8"/>
<rect x="1806" y="1374" width="9" height="139"/>
<rect x="1884" y="1118" width="8" height="395"/>
<rect x="1884" y="1118" width="113" height="8"/>
<rect x="1988" y="1118" width="9" height="395"/>
<rect x="1988" y="1308" width="9" height="205"/>
<rect x="1988" y="1308" width="114" height="9"/>
<rect x="2093" y="1308" width="9" height="205"/>
<rect x="2093" y="1320" width="9" height="193"/>
<rect x="2093" y="1320" width="113" height="9"/>
<rect x="2197" y="1320" width="9" height="193"/>
</g>
<g class="k">
<rect x="1761" y="158" width="428" height="316"/>
<rect x="1737" y="135" width="431" height="318"/>
<rect x="1741" y="139" width="424" height="310" fill="#fff"/>
</g>
<clipPath id="c16"><rect x="1817" y="178" width="157" height="72"/></clipPath>
<g clip-path="url(#c16)" fill="#000" class="h">
<use href="#hf" x="14.37"/>
</g>
<clipPath id="c17"><rect x="1817" y="275" width="157" height="72"/></clipPath>
<g clip-path="url(#c17)" fill="#f00" class="h">
<use href="#hb" x="13.62"/>
</g>
<clipPath id="c18"><rect x="1817" y="372" width="157" height="71"/></clipPath>
<g clip-path="url(#c18)" fill="#00f" class="h">
<use href="#hf" x="2.73"/>
<use href="#hb" x="10.42"/>
</g>
<g class="k">
<rect x="1808" y="170" width="175" height="8"/>
<rect x="1808" y="250" width="175" height="9"/>
<rect x="1808" y="170" width="9" height="89"/>
<rect x="1974" y="170" width="9" height="89"/>
<rect x="1808" y="266" width="175" height="9"/>
<rect x="1808" y="347" width="175" height="8"/>
<rect x="1808" y="266" width="9" height="89"/>
<rect x="1974" y="266" width="9" height="89"/>
<rect x="1808" y="363" width="175" height="9"/>
<rect x="1808" y="443" width="175" height="10"/>
<rect x="1808" y="363" width="9" height="90"/>
<rect x="1974" y="363" width="9" height="90"/>
</g>
<g filter="url(#bin)">
<text class="l" transform="translate(2003.1 240) scale(1 1.015)">3d</text>
<text class="l" transform="translate(2003.1 337) scale(1 1.015)">7d</text>
<text class="l" transform="translate(2003.1 433) scale(1 1.015)">28d</text>
<text class="t" transform="translate(252.7 1545.5) scale(1 1.035)" text-anchor="end">0</text>
<text class="t" transform="translate(252.7 1340.429) scale(1 1.035)" text-anchor="end">10</text>
<text class="t" transform="translate(252.7 1135.357) scale(1 1.035)" text-anchor="end">20</text>
<text class="t" transform="translate(252.7 930.286) scale(1 1.035)" text-anchor="end">30</text>
<text class="t" transform="translate(252.7 725.214) scale(1 1.035)" text-anchor="end">40</text>
<text class="t" transform="translate(252.7 520.143) scale(1 1.035)" text-anchor="end">50</text>
<text class="t" transform="translate(252.7 315.071) scale(1 1.035)" text-anchor="end">60</text>
<text class="t" transform="translate(252.7 110) scale(1 1.035)" text-anchor="end">70</text>
<text class="t" transform="translate(481 1617) scale(1 1.035)" text-anchor="middle">0</text>
<text class="t" transform="translate(872 1617) scale(1 1.035)" text-anchor="middle">2</text>
<text class="t" transform="translate(1263 1617) scale(1 1.035)" text-anchor="middle">4</text>
<text class="t" transform="translate(1654 1617) scale(1 1.035)" text-anchor="middle">6</text>
<text class="t" transform="translate(2045 1617) scale(1 1.035)" text-anchor="middle">8</text>
<text class="t" x="724.3" y="1739" xml:space="preserve">dosage of <tspan dx="1.5">curing </tspan><tspan dx="0.5">agent  </tspan><tspan dx="0.5">/%</tspan></text>
<text class="t" transform="translate(102 1279.6) rotate(-90)" xml:space="preserve">Strength loss <tspan dx="2.5">rate </tspan><tspan dx="1.5">/%</tspan></text>
</g>
</svg>
</body></html>
